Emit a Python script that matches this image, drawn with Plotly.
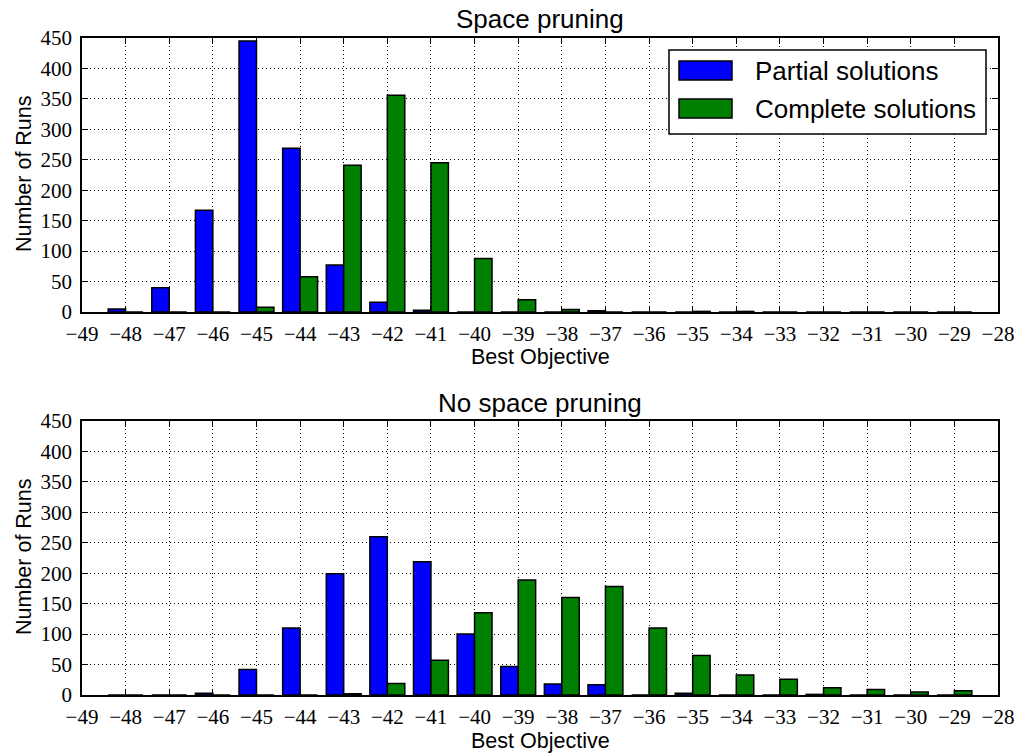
import plotly.graph_objects as go

# Histogram bins (best objective value) shared by both panels
bins = [-48, -47, -46, -45, -44, -43, -42, -41, -40, -39,
        -38, -37, -36, -35, -34, -33, -32, -31, -30, -29]

# Space pruning: number of runs per best objective
pruned_partial = [5, 40, 167, 445, 269, 77, 16, 3, 0, 0,
                  0, 2, 0, 0, 0, 0, 0, 0, 0, 0]
pruned_complete = [0, 0, 0, 8, 58, 241, 356, 245, 88, 20,
                   4, 0, 0, 1, 1, 0, 0, 0, 0, 0]

# No space pruning: number of runs per best objective
unpruned_partial = [0, 0, 3, 42, 110, 199, 260, 219, 100, 47,
                    18, 17, 0, 3, 0, 0, 1, 0, 0, 0]
unpruned_complete = [0, 0, 0, 0, 0, 2, 19, 57, 135, 189,
                     160, 178, 110, 65, 33, 26, 12, 9, 5, 7]

x_ticks = list(range(-49, -27))
x_tick_labels = ["\u2212" + str(abs(v)) for v in x_ticks]
y_ticks = list(range(0, 451, 50))
y_tick_labels = [str(v) for v in y_ticks]

series_names = ["Partial solutions", "Complete solutions"]
series_colors = ["#0000ff", "#008000"]
panel_titles = ["Space pruning", "No space pruning"]

W, H = 1026, 756


def px(x):
    return x / W


def py(y):
    return 1 - y / H


SANS = "Liberation Sans, Arial, sans-serif"
SERIF = "Liberation Serif, Times New Roman, serif"

fig = go.Figure()

panels = [
    ("x", "y", pruned_partial, pruned_complete),
    ("x2", "y2", unpruned_partial, unpruned_complete),
]
for xa, ya, partial, complete in panels:
    for name, color, values in zip(series_names, series_colors, [partial, complete]):
        fig.add_trace(go.Bar(
            x=bins, y=values, name=name, xaxis=xa, yaxis=ya,
            marker=dict(color=color, line=dict(color="black", width=1.5)),
            showlegend=False,
        ))

axis_common = dict(
    showline=True, linecolor="black", linewidth=1.5, mirror="allticks",
    ticks="inside", ticklen=6, tickwidth=1, tickcolor="black",
    showgrid=True, gridcolor="black", gridwidth=1, griddash="1px,3px",
    zeroline=False, fixedrange=True, automargin=False,
    tickfont=dict(family=SERIF, size=21, color="black"),
)

x_dom = [px(82), px(998)]
x_axis = dict(domain=x_dom, range=[-49, -28], tickmode="array",
              tickvals=x_ticks, ticktext=x_tick_labels, ticklabelstandoff=2, **axis_common)
y_axis = dict(range=[0, 450], tickmode="array", tickvals=y_ticks,
              ticktext=y_tick_labels, ticklabelstandoff=4, **axis_common)

fig.update_layout(
    width=W, height=H, autosize=False,
    margin=dict(l=0, r=0, t=0, b=0, pad=0),
    paper_bgcolor="white", plot_bgcolor="white",
    barmode="group", bargap=0.2, bargroupgap=0,
    xaxis=dict(anchor="y", **x_axis),
    yaxis=dict(domain=[py(312), py(38)], anchor="x", **y_axis),
    xaxis2=dict(anchor="y2", **x_axis),
    yaxis2=dict(domain=[py(695), py(421)], anchor="x2", **y_axis),
    showlegend=False,
)

annotations = []
# panel titles, axis titles
for title, ty, xty, yty in [(panel_titles[0], 19, 357, 174),
                            (panel_titles[1], 403, 741, 557)]:
    annotations.append(dict(text=title, x=px(540), y=py(ty), xref="paper", yref="paper",
                            xanchor="center", yanchor="middle", showarrow=False,
                            font=dict(family=SANS, size=26, color="black")))
    annotations.append(dict(text="Best Objective", x=px(540), y=py(xty), xref="paper",
                            yref="paper", xanchor="center", yanchor="middle", showarrow=False,
                            font=dict(family=SANS, size=21.5, color="black")))
    annotations.append(dict(text="Number of Runs", x=px(24), y=py(yty), xref="paper",
                            yref="paper", xanchor="center", yanchor="middle", showarrow=False,
                            textangle=-90,
                            font=dict(family=SANS, size=21.5, color="black")))

# legend drawn inside the upper panel
shapes = [dict(type="rect", xref="paper", yref="paper",
               x0=px(669), x1=px(986), y0=py(134), y1=py(50),
               line=dict(color="black", width=1.5), fillcolor="white", layer="above")]
for i, (name, color) in enumerate(zip(series_names, series_colors)):
    top = 61 + i * 38
    shapes.append(dict(type="rect", xref="paper", yref="paper",
                       x0=px(679), x1=px(732), y0=py(top + 19), y1=py(top),
                       line=dict(color="black", width=1.5), fillcolor=color, layer="above"))
    annotations.append(dict(text=name, x=px(753), y=py(top + 10), xref="paper", yref="paper",
                            xanchor="left", yanchor="middle", showarrow=False,
                            font=dict(family=SANS, size=26, color="black")))

fig.update_layout(annotations=annotations, shapes=shapes)

fig.write_html("out.html")
